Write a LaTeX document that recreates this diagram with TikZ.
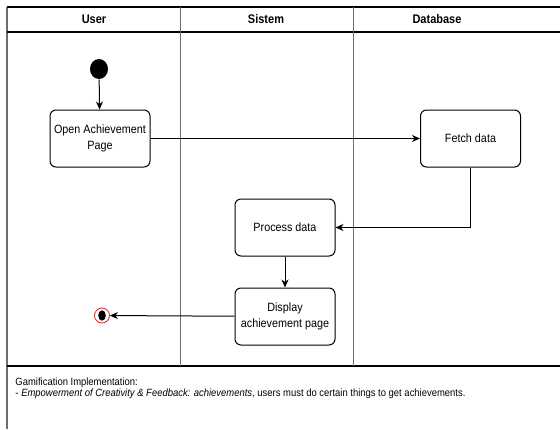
\documentclass[tikz,border=0pt]{standalone}
\usepackage{fontspec}
\setmainfont{Liberation Sans}[FakeStretch=0.9]
\newfontfamily\headfont{Liberation Sans}[FakeStretch=0.88]
\usepackage{tikz}
\usepackage{xcolor}
\usetikzlibrary{shapes, arrows.meta, positioning}

\definecolor{lanegray}{RGB}{110,110,110}
\definecolor{endred}{RGB}{230,30,30}

\begin{document}
\begin{tikzpicture}[x=1pt, y=-1pt, ->, >={Stealth[length=8pt, width=7pt, inset=2.5pt]}, line width=1pt,
        activity/.style={rectangle, rounded corners=6pt, draw, fill=white, minimum width=100pt, minimum height=57pt, align=center, inner sep=2pt, font=\fontsize{12}{16}\selectfont},
        lanehead/.style={font=\headfont\fontsize{12.5}{14}\selectfont\bfseries}]
        \useasboundingbox (0, 0) rectangle (560, 429);
        \draw [-, lanegray, line width=1.6pt] (7, 7) -- (7, 429);
        \draw [-, line width=1.2pt] (7, 7) -- (560, 7);
        \draw [-, line width=1.2pt] (7, 32) -- (560, 32);
        \draw [-, line width=1.2pt] (7, 366) -- (560, 366);
        \draw [-, lanegray] (180, 7) -- (180, 366);
        \draw [-, lanegray] (353, 7) -- (353, 366);
        \node [lanehead] (user) at (94, 19.5) {User};
        \node [lanehead] (sistem) at (266, 19.5) {Sistem};
        \node [lanehead] (database) at (437, 19.5) {Database};
        \node [ellipse, fill=black, minimum width=18pt, minimum height=20pt, inner sep=0pt] (start) at (99, 69) {};
        \node [activity] (open) at (100, 138.5) {Open Achievement\\Page};
        \node [activity] (fetch) at (470.5, 138.5) {Fetch data};
        \node [activity] (process) at (285, 227.5) {Process data};
        \node [activity] (display) at (285, 316.5) {Display\\achievement page};
        \node [circle, draw=endred, line width=0.8pt, fill=white, minimum size=15pt, inner sep=0pt] (end) at (102, 315.5) {};
        \fill [black] (end) ellipse (3.8 and 5.2);
        \path (start) edge (open);
        \path (open) edge (fetch);
        \draw (fetch.south) |- (process.east);
        \path (process) edge (display);
        \path (display) edge (end);
        \node [anchor=north west, align=left, inner sep=0pt, font=\fontsize{10.5}{11.5}\selectfont] (note) at (15, 377) {Gamification Implementation:\\- \textit{Empowerment of Creativity \& Feedback: achievements}, users must do certain things to get achievements.};
    \end{tikzpicture}
\end{document}
